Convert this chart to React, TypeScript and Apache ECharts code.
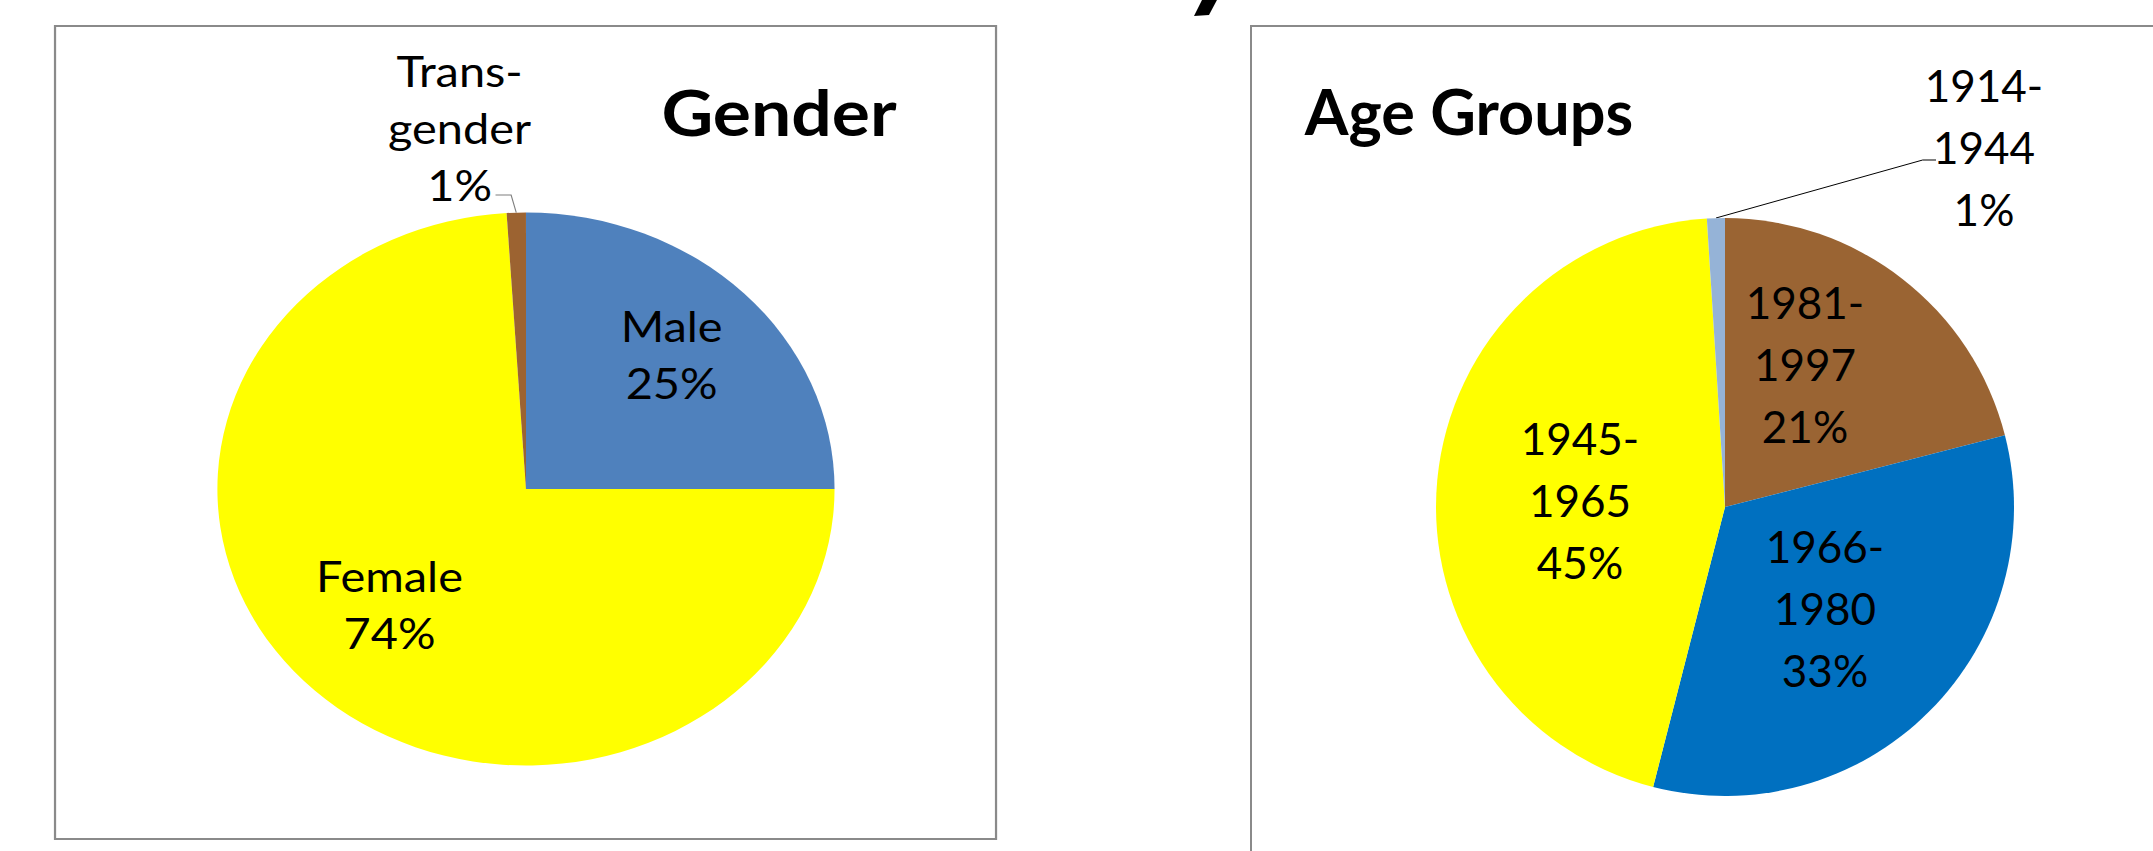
import React, { useEffect, useRef } from 'react';
import * as echarts from 'echarts';

// ---------- data ----------
const genderCategories = ['Male', 'Female', 'Trans-\ngender'];
const genderValues = [25, 74, 1];
const genderColors = ['#4F81BD', '#FFFF00', '#9C6331'];

const ageCategories = ['1981-1997', '1966-1980', '1945-1965', '1914-1944'];
const ageValues = [21, 33, 45, 1];
const ageColors = ['#9A6433', '#0070C0', '#FFFF00', '#95B3D7'];

const genderTitle = 'Gender';
const ageTitle = 'Age Groups';

// ---------- layout (chart pixel coordinates) ----------
const STRETCH = 1.116; // left panel is horizontally stretched in the reference
const FONT = 'Lato, "Open Sans", sans-serif';

const genderLabelPos = [
  [601.8, 354],
  [349, 603.5],
  [411.8, 127.5],
];
const genderLeader = [
  [462.6, 212.6],
  [458, 195],
  [444, 195],
];
const ageLabelPos = [
  [705, 363.5],
  [725, 607.5],
  [480, 500],
  [884, 146.5],
];
const ageLeader = [
  [616, 218],
  [822.7, 160],
  [836, 160],
];

function ChartBox({ option, style }: { option: any; style: React.CSSProperties }) {
  const ref = useRef<HTMLDivElement>(null);
  useEffect(() => {
    const chart = echarts.init(ref.current as HTMLDivElement, null, { renderer: 'svg' });
    chart.setOption(option);
    return () => chart.dispose();
  }, []);
  return <div ref={ref} style={style} />;
}

const genderOption = {
  animation: false,
  backgroundColor: 'transparent',
  graphic: [
    {
      type: 'rect',
      z: -10,
      shape: { x: 49.3, y: 26, width: 843.2, height: 813 },
      style: { fill: '#ffffff', stroke: '#8a8a8a', lineWidth: 2 },
    },
    {
      type: 'text',
      z: 10,
      x: 698,
      y: 111,
      style: {
        text: genderTitle,
        fontSize: 64,
        fontWeight: 'bold',
        fontFamily: FONT,
        fill: '#000000',
        align: 'center',
        verticalAlign: 'middle',
      },
    },
  ],
  series: [
    {
      type: 'pie',
      center: [471.3, 489],
      radius: 276.5,
      startAngle: 90,
      clockwise: true,
      avoidLabelOverlap: false,
      itemStyle: { borderWidth: 0 },
      label: {
        color: '#000000',
        fontSize: 42,
        lineHeight: 57,
        fontFamily: FONT,
        formatter: (p: any) => `${p.name}\n${Math.round(p.percent)}%`,
      },
      labelLine: { lineStyle: { color: '#7f7f7f', width: 1 } },
      labelLayout: (p: any) => {
        const pos = genderLabelPos[p.dataIndex];
        const out: any = { x: pos[0], y: pos[1], align: 'center', verticalAlign: 'middle' };
        if (p.dataIndex === 2) out.labelLinePoints = genderLeader.map((q) => [q[0], q[1]]);
        return out;
      },
      data: genderCategories.map((name, i) => ({
        name,
        value: genderValues[i],
        itemStyle: { color: genderColors[i] },
        label: { show: true, position: i === 2 ? 'outside' : 'inside' },
        labelLine: { show: i === 2 },
      })),
    },
  ],
};

const ageOption = {
  animation: false,
  backgroundColor: 'transparent',
  graphic: [
    {
      type: 'rect',
      z: -10,
      shape: { x: 151, y: 26, width: 1100, height: 900 },
      style: { fill: '#ffffff', stroke: '#8a8a8a', lineWidth: 2 },
    },
    {
      type: 'polygon',
      z: 10,
      shape: { points: [[103, -2], [118, -2], [109, 15], [94, 16]] },
      style: { fill: '#000000' },
    },
    {
      type: 'text',
      z: 10,
      x: 369,
      y: 110,
      style: {
        text: ageTitle,
        fontSize: 63,
        fontWeight: 'bold',
        fontFamily: FONT,
        fill: '#000000',
        align: 'center',
        verticalAlign: 'middle',
      },
    },
  ],
  series: [
    {
      type: 'pie',
      center: [625, 507],
      radius: 289,
      startAngle: 90,
      clockwise: true,
      avoidLabelOverlap: false,
      itemStyle: { borderWidth: 0 },
      label: {
        color: '#000000',
        fontSize: 44,
        lineHeight: 62,
        fontFamily: FONT,
        formatter: (p: any) => `${p.name.replace('-', '-\n')}\n${Math.round(p.percent)}%`,
      },
      labelLine: { lineStyle: { color: '#000000', width: 1 } },
      labelLayout: (p: any) => {
        const pos = ageLabelPos[p.dataIndex];
        const out: any = { x: pos[0], y: pos[1], align: 'center', verticalAlign: 'middle' };
        if (p.dataIndex === 3) out.labelLinePoints = ageLeader.map((q) => [q[0], q[1]]);
        return out;
      },
      data: ageCategories.map((name, i) => ({
        name,
        value: ageValues[i],
        itemStyle: { color: ageColors[i] },
        label: { show: true, position: i === 3 ? 'outside' : 'inside' },
        labelLine: { show: i === 3 },
      })),
    },
  ],
};

export default function App() {
  return (
    <div
      style={{
        position: 'fixed',
        left: 0,
        top: 0,
        width: 2153,
        height: 851,
        background: '#ffffff',
        overflow: 'hidden',
      }}
    >
      <ChartBox
        option={genderOption}
        style={{
          position: 'absolute',
          left: 0,
          top: 0,
          width: 960,
          height: 851,
          transform: `scaleX(${STRETCH})`,
          transformOrigin: '0 0',
        }}
      />
      <ChartBox
        option={ageOption}
        style={{ position: 'absolute', left: 1100, top: 0, width: 1053, height: 851, overflow: 'hidden' }}
      />
    </div>
  );
}
